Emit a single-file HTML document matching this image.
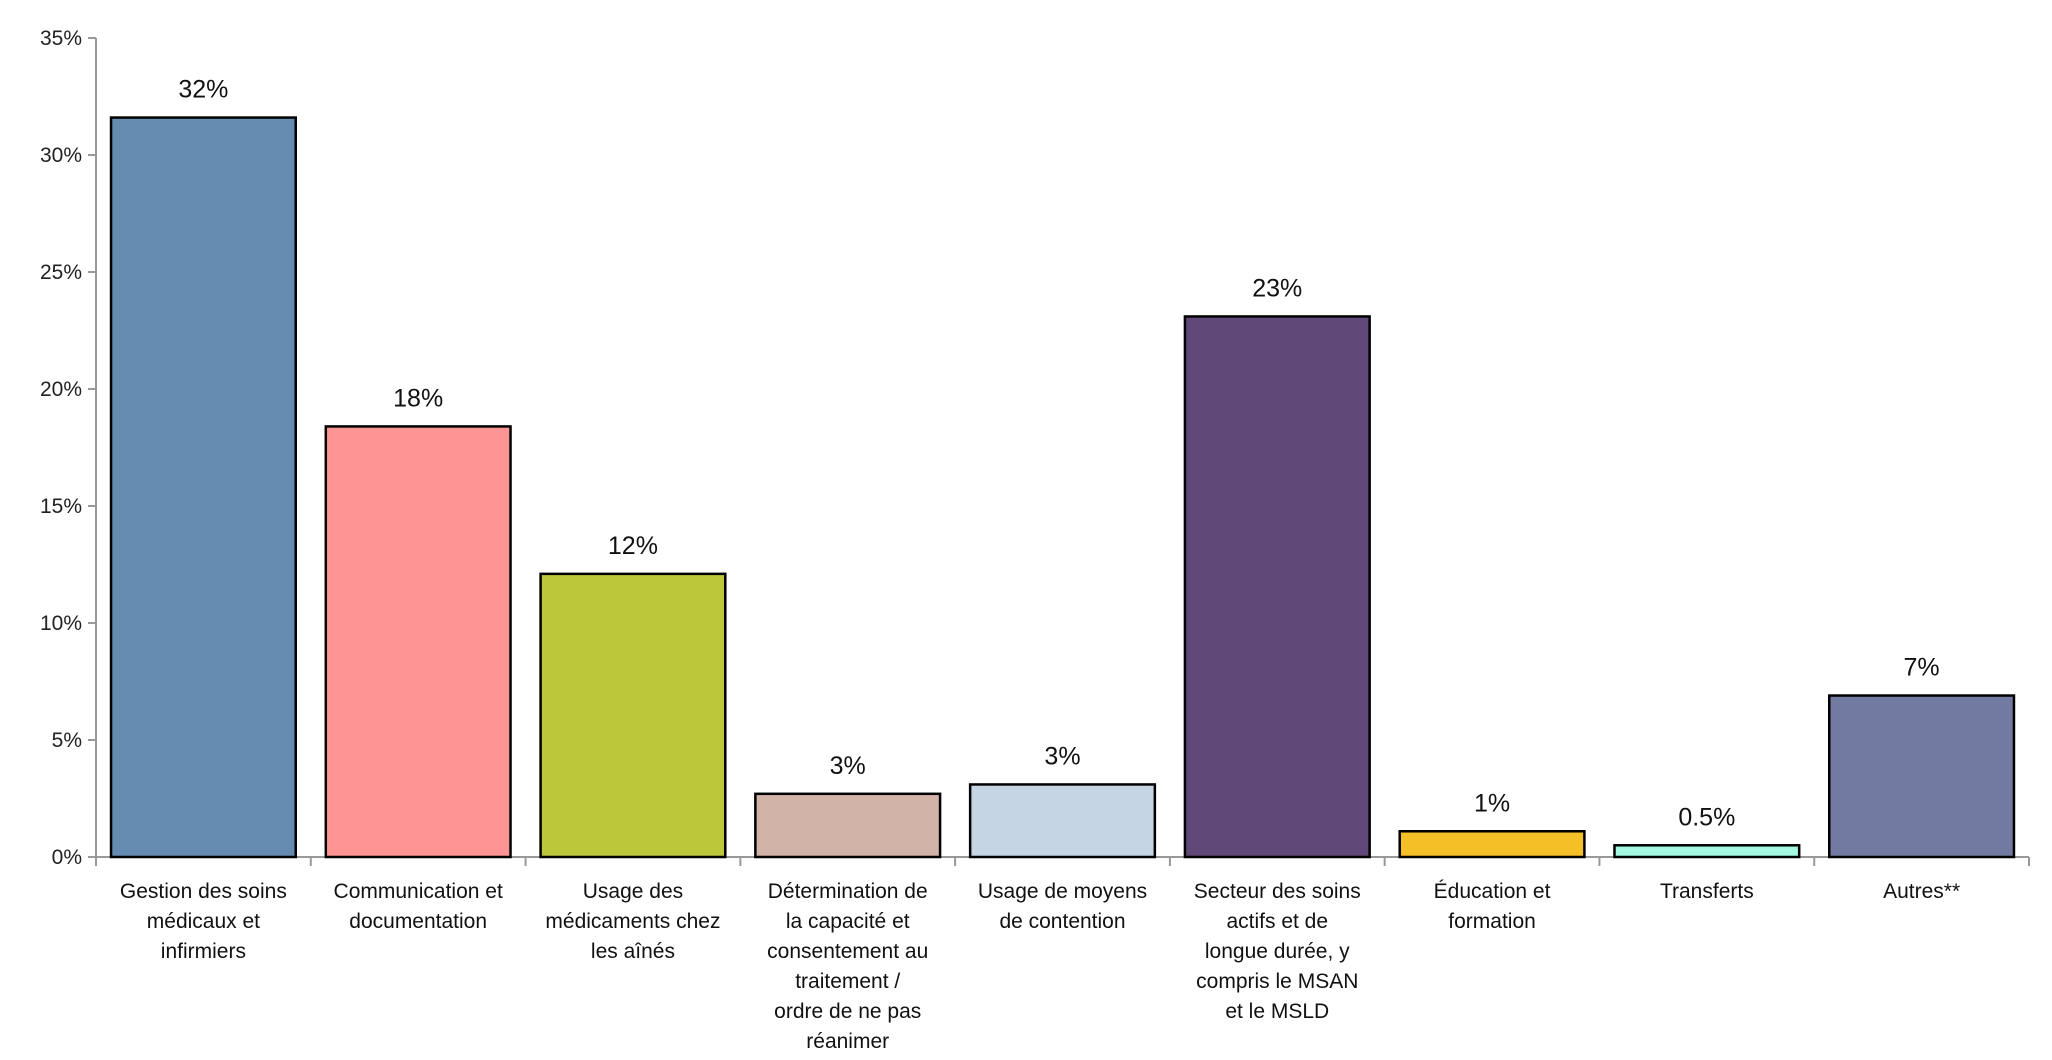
<!DOCTYPE html>
<html><head><meta charset="utf-8"><style>
html,body{margin:0;padding:0;background:#fff;}
svg{display:block;font-family:"Liberation Sans",sans-serif;}
</style></head><body>
<svg id="chart" width="2052" height="1060" viewBox="0 0 2052 1060"></svg>
<script>
const categories=[["Gestion des soins","médicaux et","infirmiers"],["Communication et","documentation"],["Usage des","médicaments chez","les aînés"],["Détermination de","la capacité et","consentement au","traitement /","ordre de ne pas","réanimer"],["Usage de moyens","de contention"],["Secteur des soins","actifs et de","longue durée, y","compris le MSAN","et le MSLD"],["Éducation et","formation"],["Transferts"],["Autres**"]];
const values=[31.6,18.4,12.1,2.7,3.1,23.1,1.1,0.5,6.9];
const valueLabels=["32%","18%","12%","3%","3%","23%","1%","0.5%","7%"];
const yTicks=[0,5,10,15,20,25,30,35];
const colors=["#668bb0","#ff9494","#bcc83a","#d2b3a8","#c5d5e3","#604878","#f5c027","#a2f8e0","#737aa2"];
const NS="http://www.w3.org/2000/svg";
const svg=document.getElementById('chart');
const x0=96,x1=2029,yTop=38,yBase=857,yMax=35;
const bw=(x1-x0)/categories.length;
const y=v=>yBase-(v/yMax)*(yBase-yTop);
function mk(t,a,p){const e=document.createElementNS(NS,t);for(const k in a)e.setAttribute(k,a[k]);(p||svg).appendChild(e);return e;}
// axes
const ax=mk('line',{x1:x0,y1:yTop,x2:x0,y2:yBase,stroke:'#999','stroke-width':2});


const bx=mk('line',{x1:x0,y1:yBase,x2:x1,y2:yBase,stroke:'#999','stroke-width':2});


yTicks.forEach(t=>{
 mk('line',{x1:x0-8,y1:y(t),x2:x0,y2:y(t),stroke:'#999','stroke-width':2});
 const tx=mk('text',{x:x0-14,y:y(t)+7,'text-anchor':'end','font-size':21,fill:'#222'});
 tx.textContent=t+'%';
 
 
});
for(let i=0;i<=categories.length;i++){mk('line',{x1:x0+i*bw,y1:yBase,x2:x0+i*bw,y2:yBase+9,stroke:'#999','stroke-width':2});}
categories.forEach((c,i)=>{
 const cx=x0+bw*(i+0.5),w=bw*0.86;
 const r=mk('rect',{x:cx-w/2,y:y(values[i]),width:w,height:yBase-y(values[i]),fill:colors[i],stroke:'#000','stroke-width':2.5});
 
 
 const vl=mk('text',{x:cx,y:y(values[i])-20,'text-anchor':'middle','font-size':25,fill:'#111'});
 vl.textContent=valueLabels[i];
 
 
 const tl=mk('text',{x:cx,y:898,'text-anchor':'middle','font-size':21,fill:'#111'});
 
 
 c.forEach((ln,j)=>{const s=mk('tspan',{x:cx,dy:j?30:0},tl);s.textContent=ln;});
});
</script>
</body></html>
